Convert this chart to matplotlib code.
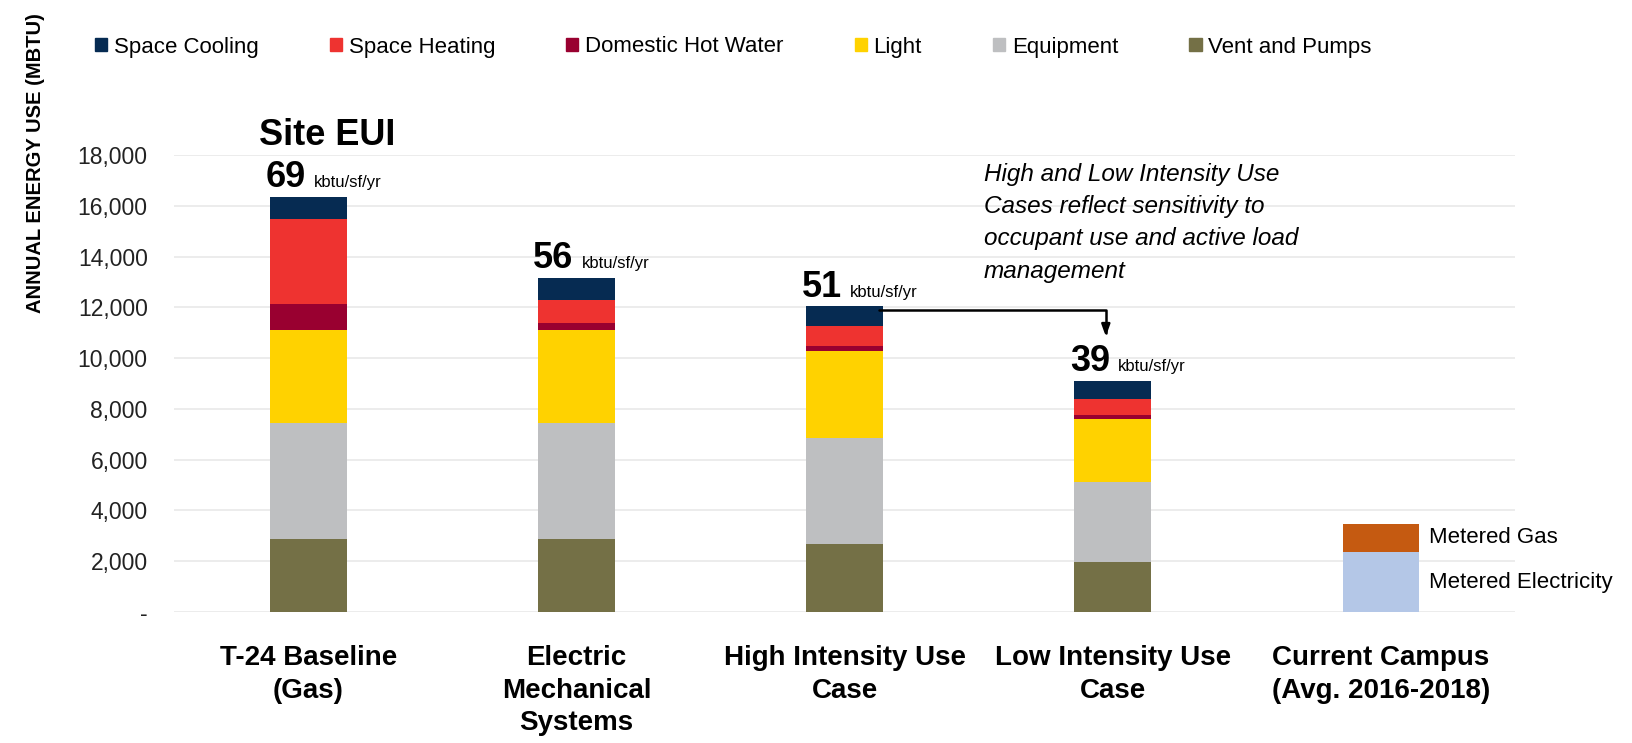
import matplotlib
matplotlib.use("Agg")
import matplotlib.pyplot as plt
from matplotlib.patches import Patch
import numpy as np

plt.rcParams['font.family'] = ['Liberation Sans', 'DejaVu Sans']

# values (MBTU)
categories = ['T-24 Baseline\n(Gas)', 'Electric\nMechanical\nSystems',
              'High Intensity Use\nCase', 'Low Intensity Use\nCase',
              'Current Campus\n(Avg. 2016-2018)']
vent_pumps = [2870, 2870, 2670, 1960]
equipment = [4560, 4560, 4200, 3150]
light = [3680, 3680, 3410, 2500]
hot_water = [1020, 290, 210, 150]
heating = [3340, 880, 760, 640]
cooling = [870, 870, 790, 690]
eui = [69, 56, 51, 39]

metered_elec = [2350]
metered_gas = [1130]

series = [
    ('Vent and Pumps', vent_pumps, '#747046'),
    ('Equipment', equipment, '#BEBFC1'),
    ('Light', light, '#FFD200'),
    ('Domestic Hot Water', hot_water, '#990030'),
    ('Space Heating', heating, '#EE3330'),
    ('Space Cooling', cooling, '#062B52'),
]

fig = plt.figure(figsize=(16.33, 7.43), dpi=100)
ax = fig.add_axes([0.1066, 0.1763, 0.8212, 0.6151])

x = np.arange(len(categories))
xm = x[:4]
width = 0.287

bottom = np.zeros(4)
for name, vals, col in series:
    ax.bar(xm, vals, width, bottom=bottom, color=col, zorder=3)
    bottom += np.array(vals)
totals = bottom

# current campus metered bar
ax.bar(x[4], metered_elec, width, color='#B4C7E7', zorder=3)
ax.bar(x[4], metered_gas, width, bottom=metered_elec, color='#C55A11', zorder=3)
ax.annotate('Metered Electricity', (x[4] + width / 2, metered_elec[0] / 2),
            xytext=(7, 0), textcoords='offset points', va='center',
            ha='left', fontsize=16, annotation_clip=False)
ax.annotate('Metered Gas', (x[4] + width / 2, metered_elec[0] + metered_gas[0] / 2),
            xytext=(7, 0), textcoords='offset points', va='center',
            ha='left', fontsize=16, annotation_clip=False)

# EUI labels on top of bars
for xi, tot, e in zip(xm, totals, eui):
    ax.annotate(str(e), (xi, tot), xytext=(-2, 7), textcoords='offset points',
                ha='right', va='baseline', fontsize=26, fontweight='bold',
                annotation_clip=False)
    ax.annotate('kbtu/sf/yr', (xi, tot), xytext=(4, 7), textcoords='offset points',
                ha='left', va='baseline', fontsize=12, annotation_clip=False)

ax.text(0.07, 18400, 'Site EUI', ha='center', va='baseline', fontsize=26,
        fontweight='bold', clip_on=False)

# arrow from high to low intensity case
ax.annotate('', xy=(2.974, 10850), xytext=(2.13, 11890),
            arrowprops=dict(arrowstyle='-|>,head_length=0.7,head_width=0.25',
                            connectionstyle='angle,angleA=0,angleB=90,rad=0',
                            color='black', lw=1.8, shrinkA=0, shrinkB=0),
            zorder=4)

ax.text(2.974 - 0.455, 17700,
        'High and Low Intensity Use\nCases reflect sensitivity to\n'
        'occupant use and active load\nmanagement',
        ha='left', va='top', fontsize=17.5, style='italic', linespacing=1.52)

ax.set_xlim(-0.5, 4.5)
ax.set_ylim(0, 18000)
ax.set_yticks(np.arange(0, 18001, 2000))
ax.set_yticklabels(['-'] + [f'{v:,}' for v in range(2000, 18001, 2000)])
ax.set_xticks(x)
ax.set_xticklabels(categories, fontsize=20, fontweight='bold', linespacing=1.32)
ax.tick_params(axis='y', length=0, pad=19, labelsize=16.5, labelcolor='#222222')
ax.tick_params(axis='x', length=0, pad=24)
ax.grid(axis='y', color='#E9E9E9', lw=1.2, zorder=0)
for s in ax.spines.values():
    s.set_visible(False)

fig.text(36 / 1633, 1 - 163 / 743, 'ANNUAL ENERGY USE (MBTU)', rotation=90,
         ha='center', va='center', fontsize=14.5, fontweight='bold')

handles = [Patch(color=c, label=n) for n, v, c in series[::-1]]
fig.legend(handles=handles, loc='center left', ncol=6, frameon=False,
           bbox_to_anchor=(95 / 1633, 1 - 47 / 743), fontsize=16,
           handlelength=0.55, handleheight=0.55, handletextpad=0.3,
           columnspacing=3.2, borderpad=0, borderaxespad=0)

fig.savefig('out.png', dpi=100)
